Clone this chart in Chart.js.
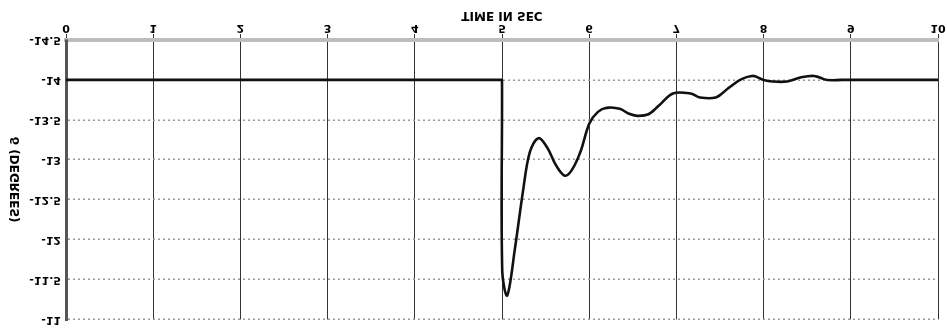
<!DOCTYPE html>
<html>
<head>
<meta charset="utf-8">
<script src="https://cdn.jsdelivr.net/npm/chart.js@4/dist/chart.umd.min.js"></script>
<style>
  body { margin: 0; background: #fff; }
  #wrap { width: 947px; height: 331px; }
  /* the reference is the plot mirrored top to bottom */
  #myChart { transform: scaleY(-1); }
</style>
</head>
<body>
<div id="wrap"><canvas id="myChart" width="947" height="331"></canvas></div>
<script>
// time (sec) and response
var timeSec = [0, 4.99, 5.0, 5.003, 5.06, 5.15, 5.24, 5.32, 5.42, 5.52, 5.62, 5.72, 5.8, 5.9, 6.0, 6.1, 6.2, 6.35, 6.45, 6.55, 6.68, 6.8, 6.96, 7.16, 7.27, 7.45, 7.6, 7.73, 7.88, 8.0, 8.1, 8.27, 8.42, 8.58, 8.73, 8.9, 10];
var response = [-14, -14, -14, -11.6, -11.3, -11.9, -12.6, -13.1, -13.27, -13.15, -12.93, -12.8, -12.87, -13.1, -13.45, -13.6, -13.65, -13.64, -13.58, -13.55, -13.57, -13.68, -13.83, -13.83, -13.78, -13.78, -13.9, -14.0, -14.05, -14.0, -13.98, -13.98, -14.03, -14.05, -14.0, -14, -14];

var xTitle = 'TIME IN SEC';
var yTitle = 'δ (DEGREES)';

function getPoints(xs, ys){
    var pts = [];
    for(var i = 0; i < xs.length; i++){
        pts.push({x: xs[i], y: ys[i]});
    }
    return pts;
}

var tickFont = {family: 'DejaVu Sans', size: 11, weight: 'bold'};
var titleFont = {family: 'DejaVu Sans', size: 12, weight: 'bold'};

var ctx = document.getElementById('myChart').getContext('2d');
var chart = new Chart(ctx, {
    type: 'line',
    data: {
        datasets: [{
            data: getPoints(timeSec, response),
            borderColor: '#111',
            borderWidth: 2.6,
            pointRadius: 0,
            tension: 0.35,
            fill: false
        }]
    },
    options: {
        responsive: false,
        animation: false,
        layout: { padding: { top: 8, right: 9, left: 0, bottom: 0 } },
        plugins: { legend: { display: false }, tooltip: { enabled: false } },
        scales: {
            x: {
                type: 'linear',
                min: 0,
                max: 10,
                ticks: { stepSize: 1, color: '#000', font: tickFont, padding: 0, maxRotation: 0 },
                grid: { color: '#333', lineWidth: 1, drawTicks: true, tickLength: 6 },
                border: { color: '#bdbdbd', width: 4 },
                title: { display: true, text: xTitle, color: '#000', font: titleFont, padding: { top: 0, bottom: 8 } },
                afterFit: function(scale){ scale.height = 40; }
            },
            y: {
                min: -14.5,
                max: -11,
                ticks: {
                    stepSize: 0.5, color: '#000', font: tickFont, padding: 5,
                    callback: function(v){ return String(v); }
                },
                grid: { color: '#9a9a9a', lineWidth: 1.5, drawTicks: false },
                border: { color: '#555', width: 3, dash: [2, 3] },
                title: { display: true, text: yTitle, color: '#000', font: titleFont, padding: { top: 9, bottom: 0 } },
                afterFit: function(scale){ scale.width = 66; }
            }
        }
    }
});
</script>
</body>
</html>
